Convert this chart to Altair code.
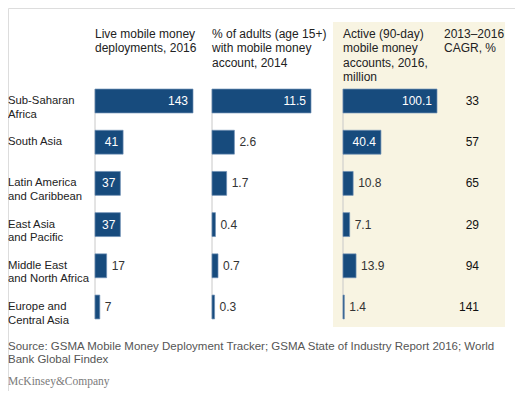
import altair as alt
import pandas as pd

regions = ["Sub-Saharan\nAfrica", "South Asia", "Latin America\nand Caribbean",
           "East Asia\nand Pacific", "Middle East\nand North Africa", "Europe and\nCentral Asia"]
deployments = [143, 41, 37, 37, 17, 7]
pct_adults = [11.5, 2.6, 1.7, 0.4, 0.7, 0.3]
active_accounts = [100.1, 40.4, 10.8, 7.1, 13.9, 1.4]
cagr = [33, 57, 65, 29, 94, 141]

headers = [
    "Live mobile money\ndeployments, 2016",
    "% of adults (age 15+)\nwith mobile money\naccount, 2014",
    "Active (90-day)\nmobile money\naccounts, 2016,\nmillion",
    "2013–2016\nCAGR, %",
]
source_text = ("Source: GSMA Mobile Money Deployment Tracker; GSMA State of Industry Report 2016; World\n"
               "Bank Global Findex")
brand = "McKinsey&Company"

df = pd.DataFrame({
    "region": regions,
    "deploy": deployments,
    "pct": pct_adults,
    "active": active_accounts,
    "cagr": cagr,
})

BAR = "#174b7d"
FONT = "Liberation Sans"
TXT = "#222222"

yscale = alt.Scale(domain=regions, range=[72.4, 319.6], paddingInner=0.42, paddingOuter=0.21)
Y = alt.Y("region:N", scale=yscale, axis=None)


def one(text):
    return pd.DataFrame({"t": [text]})


def column(field, xrange, fmt, inside_min, header):
    xs = alt.Scale(domain=[0, max(df[field])], range=xrange, nice=False, zero=True)
    X = alt.X(f"{field}:Q", scale=xs, axis=None)
    base = alt.Chart(df)
    rule = alt.Chart(one("r")).mark_rule(color="#c8c8c8", strokeWidth=1).encode(
        x=alt.datum(0, scale=xs, axis=None), y=alt.value(81), y2=alt.value(311))
    bars = base.mark_bar(color=BAR, stroke="#6f8fb5", strokeWidth=0.7).encode(x=X, y=Y)
    t_in = base.transform_filter(f"datum.{field} >= {inside_min}").mark_text(
        align="right", dx=-5, color="white", font=FONT, fontSize=12).encode(
        x=X, y=Y, text=alt.Text(f"{field}:Q", format=fmt))
    t_out = base.transform_filter(f"datum.{field} < {inside_min}").mark_text(
        align="left", dx=5, color="#333333", font=FONT, fontSize=12).encode(
        x=X, y=Y, text=alt.Text(f"{field}:Q", format=fmt))
    head = alt.Chart(one(header)).mark_text(
        align="left", baseline="top", lineBreak="\n", lineHeight=14.3,
        font=FONT, fontSize=12, color=TXT).encode(
        x=alt.datum(0, scale=xs, axis=None), y=alt.value(21), text="t:N")
    return alt.layer(rule, bars, t_in, t_out, head)


background = alt.Chart(one("bg")).mark_rect(color="#f8f4e2").encode(
    x=alt.value(325), x2=alt.value(497), y=alt.value(14), y2=alt.value(319))

row_labels = alt.Chart(df).mark_text(
    align="left", baseline="middle", lineBreak="\n", lineHeight=13.5,
    font=FONT, fontSize=11.3, color=TXT).encode(x=alt.value(0), y=Y, text="region:N")

c1 = column("deploy", [87, 185], "d", 30, headers[0])
c2 = column("pct", [204, 303], ".1f", 5, headers[1])
c3 = column("active", [335, 429], ".1f", 30, headers[2])

c4_vals = alt.Chart(df).mark_text(align="right", baseline="middle", font=FONT,
                                  fontSize=12, color="#111111").encode(
    x=alt.value(471), y=Y, text=alt.Text("cagr:Q", format="d"))
c4_head = alt.Chart(one(headers[3])).mark_text(
    align="left", baseline="top", lineBreak="\n", lineHeight=14.3,
    font=FONT, fontSize=12, color=TXT).encode(x=alt.value(436), y=alt.value(21), text="t:N")

src = alt.Chart(one(source_text)).mark_text(
    align="left", baseline="top", lineBreak="\n", lineHeight=12.5,
    font=FONT, fontSize=11.5, color="#555555").encode(x=alt.value(0), y=alt.value(333), text="t:N")
logo = alt.Chart(one(brand)).mark_text(
    align="left", baseline="middle", font="Liberation Serif", fontSize=11.5,
    color="#7a7a7a").encode(x=alt.value(0), y=alt.value(374), text="t:N")

chart = alt.layer(background, row_labels, c1, c2, c3, c4_vals, c4_head, src, logo).resolve_scale(
    x="independent").properties(
    width=507, height=383, padding=0,
    autosize=alt.AutoSizeParams(type="none"),
).configure_view(stroke=None).configure(background="white")

chart.save("out.html", embed_options={"renderer": "svg", "actions": False})
